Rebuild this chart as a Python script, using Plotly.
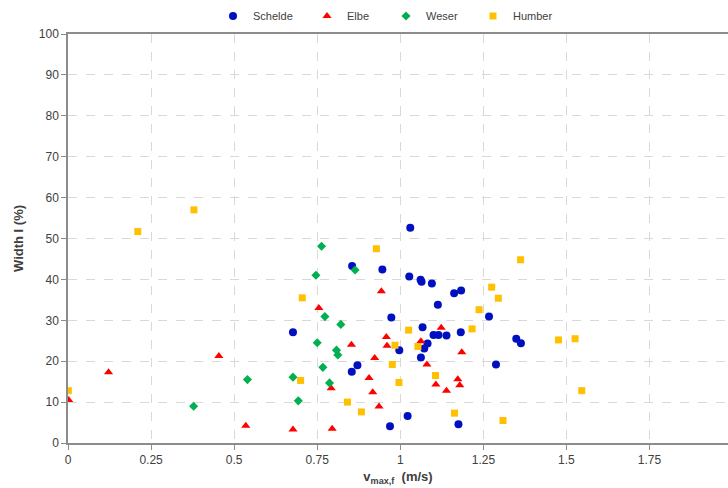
import plotly.graph_objects as go

# ---- data ----
schelde_v = [0.677, 0.854, 0.855, 0.871, 0.946, 0.969, 0.973, 0.997, 1.022, 1.027,
             1.030, 1.061, 1.064, 1.062, 1.067, 1.072, 1.082, 1.095, 1.100, 1.113,
             1.115, 1.139, 1.162, 1.175, 1.182, 1.183, 1.267, 1.288, 1.349, 1.363]
schelde_w = [27.1, 17.4, 43.3, 19.0, 42.4, 4.1, 30.7, 22.7, 6.6, 40.7,
             52.6, 39.9, 39.4, 20.9, 28.3, 23.1, 24.3, 39.0, 26.4, 33.8,
             26.4, 26.3, 36.6, 4.6, 27.1, 37.3, 30.9, 19.2, 25.5, 24.4]

elbe_v = [0.002, 0.122, 0.454, 0.535, 0.677, 0.755, 0.792, 0.795, 0.853, 0.906,
          0.917, 0.923, 0.936, 0.943, 0.958, 0.960, 1.062, 1.080, 1.107, 1.123,
          1.139, 1.173, 1.179, 1.185]
elbe_w = [10.5, 17.3, 21.3, 4.2, 3.3, 33.0, 13.4, 3.5, 24.0, 15.9,
          12.4, 20.8, 8.9, 37.1, 25.9, 23.8, 24.9, 19.2, 14.3, 28.2,
          12.8, 15.6, 14.1, 22.2]

weser_v = [0.378, 0.540, 0.677, 0.693, 0.746, 0.750, 0.763, 0.767, 0.773, 0.787,
           0.808, 0.812, 0.821, 0.864]
weser_w = [9.0, 15.5, 16.1, 10.3, 41.0, 24.5, 48.1, 18.5, 30.9, 14.7,
           22.7, 21.5, 29.0, 42.3]

humber_v = [0.001, 0.210, 0.379, 0.700, 0.705, 0.841, 0.883, 0.928, 0.976, 0.984,
            0.996, 1.025, 1.053, 1.106, 1.163, 1.216, 1.237, 1.275, 1.295, 1.309,
            1.362, 1.476, 1.526, 1.546]
humber_w = [12.8, 51.7, 57.0, 15.3, 35.5, 10.0, 7.6, 47.5, 19.2, 23.9,
            14.8, 27.6, 23.6, 16.5, 7.3, 27.9, 32.6, 38.1, 35.4, 5.5,
            44.8, 25.2, 25.5, 12.8]

x_tickvals = [0, 0.25, 0.5, 0.75, 1, 1.25, 1.5, 1.75]
x_ticktext = ["0", "0.25", "0.5", "0.75", "1", "1.25", "1.5", "1.75"]
y_tickvals = [0, 10, 20, 30, 40, 50, 60, 70, 80, 90, 100]

FONT = "Liberation Sans, Arial, sans-serif"
TXT = "#404040"

fig = go.Figure()
series = [
    ("Schelde", schelde_v, schelde_w, "circle", 8, "#0010C0", "legend"),
    ("Elbe", elbe_v, elbe_w, "triangle-up", 8, "#FF0000", "legend2"),
    ("Weser", weser_v, weser_w, "diamond", 7, "#00B050", "legend3"),
    ("Humber", humber_v, humber_w, "square", 7, "#FFC000", "legend4"),
]
for name, xv, yv, sym, sz, col, lg in series:
    fig.add_trace(go.Scatter(
        x=xv, y=yv, mode="markers", name=name, legend=lg,
        marker=dict(symbol=sym, size=sz, color=col, line=dict(width=0)),
    ))

# plot area: x 68..728 px, y 34..443 px
L, R, T, B = 68, 0, 34, 45
W, H = 728, 488
pw = W - L - R
ph = H - T - B

def leg(text_x):
    return dict(orientation="h", x=(text_x - 40 - L) / pw, xanchor="left",
                y=(H - B - 16) / ph, yanchor="middle",
                font=dict(family=FONT, size=11, color=TXT),
                bgcolor="rgba(0,0,0,0)", borderwidth=0, itemwidth=30)

fig.update_layout(
    width=W, height=H,
    margin=dict(l=L, r=R, t=T, b=B, autoexpand=False),
    plot_bgcolor="white", paper_bgcolor="white",
    font=dict(family=FONT, size=12, color=TXT),
    showlegend=True,
    legend=leg(253),
    legend2=leg(347),
    legend3=leg(426),
    legend4=leg(513),
    xaxis=dict(
        range=[0, pw / 332.3], tickvals=x_tickvals, ticktext=x_ticktext,
        showgrid=True, gridcolor="#D9D9D9", griddash="dash", gridwidth=1,
        showline=True, linecolor="#8C8C8C", linewidth=1.5, mirror=True,
        ticks="outside", ticklen=5, tickcolor="#8C8C8C",
        zeroline=False,
        tickfont=dict(family=FONT, size=12, color=TXT),
        title=dict(text="<b>v<sub>max,f</sub>  (m/s)</b>", standoff=6,
                   font=dict(family=FONT, size=13, color=TXT)),
    ),
    yaxis=dict(
        range=[0, 100], tickvals=y_tickvals,
        showgrid=True, gridcolor="#D9D9D9", griddash="dash", gridwidth=1,
        showline=True, linecolor="#8C8C8C", linewidth=1.5,
        ticks="outside", ticklen=5, tickcolor="#8C8C8C",
        zeroline=False,
        tickfont=dict(family=FONT, size=12, color=TXT),
        title=dict(text="<b>Width I (%)</b>", standoff=12,
                   font=dict(family=FONT, size=13, color=TXT)),
    ),
)

fig.write_html(
    "out.html",
    config={"responsive": False, "displayModeBar": False},
    post_script="document.body.style.margin='0';document.body.style.overflow='hidden';",
)
